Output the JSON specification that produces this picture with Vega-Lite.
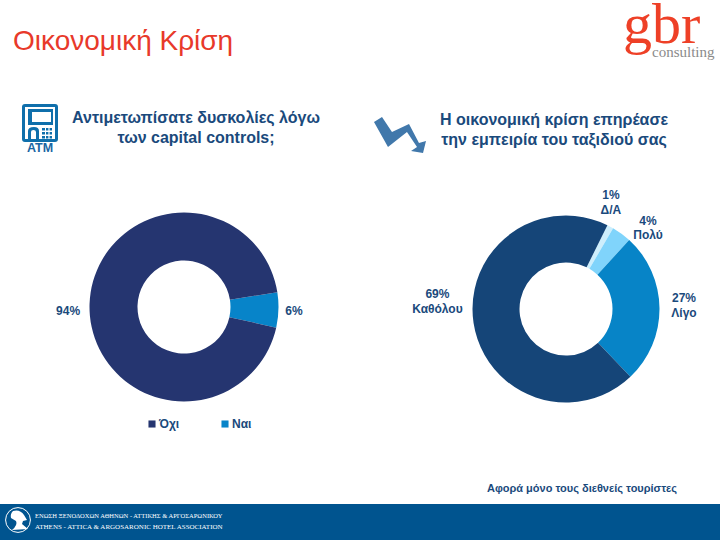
{
"$schema":"https://vega.github.io/schema/vega-lite/v6.json",
"padding":0,
"background":"white",
"spacing":0,
"config":{"view":{"stroke":null},"font":"Liberation Sans"},
"resolve":{"scale":{"color":"independent","theta":"independent"},"legend":{"color":"independent"}},
"vconcat":[
{"width":720,"height":154,"layer":[
 {"data":{"values":[{"label":"Οικονομική Κρίση"}]},"mark":{"type":"text","x":13,"y":50,"align":"left","baseline":"alphabetic","fontSize":28,"color":"#E8392A"},"encoding":{"text":{"field":"label"}}},
 {"data":{"values":[{"label":"gbr"}]},"mark":{"type":"text","clip":true,"x":623,"y":43,"align":"left","baseline":"alphabetic","fontSize":58,"font":"Liberation Serif","color":"#EE4027"},"encoding":{"text":{"field":"label"}}},
 {"data":{"values":[{"label":"consulting"}]},"mark":{"type":"text","x":652,"y":57,"align":"left","baseline":"alphabetic","fontSize":15,"font":"Liberation Serif","color":"#8A8A8A"},"encoding":{"text":{"field":"label"}}},
 {"data":{"values":[{"label":"Αντιμετωπίσατε δυσκολίες λόγω\nτων capital controls;"}]},"mark":{"type":"text","x":196,"y":123,"align":"center","baseline":"alphabetic","lineBreak":"\n","lineHeight":20,"fontSize":16,"fontWeight":"bold","color":"#1A4A7C"},"encoding":{"text":{"field":"label"}}},
 {"data":{"values":[{"label":"Η οικονομική κρίση επηρέασε\nτην εμπειρία του ταξιδιού σας"}]},"mark":{"type":"text","x":554,"y":125,"align":"center","baseline":"alphabetic","lineBreak":"\n","lineHeight":20,"fontSize":16,"fontWeight":"bold","color":"#1A4A7C"},"encoding":{"text":{"field":"label"}}},
 {"data":{"values":[{"label":"ATM"}]},"mark":{"type":"text","x":40,"y":152,"align":"center","baseline":"alphabetic","fontSize":12.5,"fontWeight":"bold","color":"#1B66A3"},"encoding":{"text":{"field":"label"}}},
 {"data":{"values":[{"icon":"atm"}]},"mark":{"type":"point","x":40,"y":123,"size":400,"filled":true,"opacity":1,"color":"#0F6FAB","shape":"M-1.5,-1.9 H1.5 Q1.8,-1.9 1.8,-1.6 V1.6 Q1.8,1.9 1.5,1.9 H-1.5 Q-1.8,1.9 -1.8,1.6 V-1.6 Q-1.8,-1.9 -1.5,-1.9 Z M-1.5,-1.6 V1.6 H1.5 V-1.6 Z M-1.2,-1.4 V0.2 H1.3 V-1.4 Z M-0.8,-1.1 H1.1 V-0.1 H-0.8 Z M-1.2,1.6 V0.8 Q-1.2,0.4 -0.6,0.4 Q-0.1,0.4 -0.1,0.8 V1.6 H-0.4 V0.9 Q-0.4,0.7 -0.66,0.7 Q-0.9,0.7 -0.9,0.9 V1.6 Z M0.2,0.5 H0.5 V0.76 H0.2 Z M0.6,0.5 H0.84 V0.76 H0.6 Z M0.96,0.5 H1.2 V0.76 H0.96 Z M0.2,0.9 H0.5 V1.16 H0.2 Z M0.6,0.9 H0.84 V1.16 H0.6 Z M0.96,0.9 H1.2 V1.16 H0.96 Z M0.2,1.3 H0.5 V1.56 H0.2 Z M0.6,1.3 H0.84 V1.56 H0.6 Z M0.96,1.3 H1.2 V1.56 H0.96 Z"},"encoding":{}},
 {"data":{"values":[{"icon":"arrow"}]},"mark":{"type":"point","x":400,"y":135,"size":900,"filled":true,"opacity":1,"color":"#4178AB","shape":"M-1.734,-0.866 L-1.2,-1.2 L-0.534,-0.2 L0.6,-0.734 L1.266,0.534 L1.734,0.4 L1.534,1.2 L0.734,1.066 L1.134,0.8 L0.466,-0.2 L-0.8,0.8 Z"},"encoding":{}}
]},
{"hconcat":[
 {"width":368,"height":254,
  "data":{"values":[
   {"category":"Ναι","value":6,"rank":1,"label":"6%"},
   {"category":"Όχι","value":94,"rank":2,"label":"94%"}
  ]},
  "encoding":{
   "theta":{"field":"value","type":"quantitative","stack":true,"scale":{"domain":[0,100],"range":[1.414,7.697]}},
   "order":{"field":"rank","type":"ordinal"}
  },
  "layer":[
   {"mark":{"type":"arc","outerRadius":94.5,"innerRadius":46.5},
    "encoding":{"color":{"field":"category","type":"nominal","scale":{"domain":["Όχι","Ναι"],"range":["#253570","#0784C9"]},
     "legend":{"title":null,"orient":"none","legendX":146,"legendY":238,"direction":"horizontal","columns":2,"columnPadding":39,"symbolType":"square","symbolSize":50,"labelOffset":1,"labelFontSize":12,"labelFontWeight":"bold","labelColor":"#1A4A7C","labelFont":"Liberation Sans"}}}},
   {"mark":{"type":"text","radius":110,"dy":1,"fontSize":12,"fontWeight":"bold","color":"#1A4A7C"},
    "encoding":{"detail":{"field":"category"},"text":{"condition":{"test":"datum.category==='Ναι'","field":"label"},"value":""}}},
   {"mark":{"type":"text","radius":116,"dy":8,"fontSize":12,"fontWeight":"bold","color":"#1A4A7C"},
    "encoding":{"detail":{"field":"category"},"text":{"condition":{"test":"datum.category==='Όχι'","field":"label"},"value":""}}}
  ]},
 {"width":304,"height":258,
  "data":{"values":[
   {"category":"Δ/Α","value":1.1,"rank":1,"label":"1%\nΔ/Α"},
   {"category":"Πολύ","value":3.4,"rank":2,"label":"4%\nΠολύ"},
   {"category":"Λίγο","value":26.1,"rank":3,"label":"27%\nΛίγο"},
   {"category":"Καθόλου","value":69.4,"rank":4,"label":"69%\nΚαθόλου"}
  ]},
  "encoding":{
   "theta":{"field":"value","type":"quantitative","stack":true,"scale":{"domain":[0,100],"range":[0.459,6.742]}},
   "order":{"field":"rank","type":"ordinal"}
  },
  "layer":[
   {"mark":{"type":"arc","outerRadius":93.5,"innerRadius":46.5},
    "encoding":{"color":{"field":"category","type":"nominal","scale":{"domain":["Καθόλου","Λίγο","Πολύ","Δ/Α"],"range":["#154578","#0784C7","#80D4FB","#CDEEFC"]},"legend":null}}},
   {"mark":{"type":"text","radius":118,"dx":-11,"dy":-10,"lineBreak":"\n","lineHeight":14.5,"fontSize":12,"fontWeight":"bold","color":"#1A4A7C"},
    "encoding":{"detail":{"field":"category"},"text":{"condition":{"test":"datum.category==='Δ/Α'","field":"label"},"value":""}}},
   {"mark":{"type":"text","radius":118,"dx":12,"dy":7,"lineBreak":"\n","lineHeight":14.5,"fontSize":12,"fontWeight":"bold","color":"#1A4A7C"},
    "encoding":{"detail":{"field":"category"},"text":{"condition":{"test":"datum.category==='Πολύ'","field":"label"},"value":""}}},
   {"mark":{"type":"text","radius":118,"dy":-9.5,"lineBreak":"\n","lineHeight":14.5,"fontSize":12,"fontWeight":"bold","color":"#1A4A7C"},
    "encoding":{"detail":{"field":"category"},"text":{"condition":{"test":"datum.category==='Λίγο'","field":"label"},"value":""}}},
   {"mark":{"type":"text","radius":129,"dx":-1,"dy":-34,"lineBreak":"\n","lineHeight":14.5,"fontSize":12,"fontWeight":"bold","color":"#1A4A7C"},
    "encoding":{"detail":{"field":"category"},"text":{"condition":{"test":"datum.category==='Καθόλου'","field":"label"},"value":""}}}
  ]}
],"spacing":46,"bounds":"flush","resolve":{"scale":{"color":"independent","theta":"independent"},"legend":{"color":"independent"}}},
{"width":720,"height":66,
 "data":{"values":[{"label":"Αφορά μόνο τους διεθνείς τουρίστες"}]},
 "mark":{"type":"text","x":677,"y":54,"align":"right","baseline":"alphabetic","fontSize":11,"fontWeight":"bold","color":"#1A4A7C"},
 "encoding":{"text":{"field":"label"}}},
{"width":720,"height":36,"view":{"fill":"#00548F","stroke":null},"layer":[
 {"data":{"values":[{"label":"ΕΝΩΣΗ ΞΕΝΟΔΟΧΩΝ ΑΘΗΝΩΝ - ΑΤΤΙΚΗΣ & ΑΡΓΟΣΑΡΩΝΙΚΟΥ"}]},"mark":{"type":"text","x":35,"y":14,"align":"left","baseline":"alphabetic","fontSize":6.5,"font":"Liberation Serif","color":"white"},"encoding":{"text":{"field":"label"}}},
 {"data":{"values":[{"label":"ATHENS - ATTICA & ARGOSARONIC HOTEL ASSOCIATION"}]},"mark":{"type":"text","x":35,"y":25,"align":"left","baseline":"alphabetic","fontSize":7,"font":"Liberation Serif","color":"white"},"encoding":{"text":{"field":"label"}}},
 {"data":{"values":[{"icon":"ring"}]},"mark":{"type":"point","x":18,"y":16,"size":616,"shape":"circle","filled":false,"opacity":1,"stroke":"white","strokeWidth":1},"encoding":{}},
 {"data":{"values":[{"icon":"head"}]},"mark":{"type":"point","x":19,"y":16,"size":400,"filled":true,"opacity":1,"color":"white","shape":"M-0.6,-0.9 Q0.1,-1.1 0.5,-0.5 L0.8,0 L0.4,0.1 L0.3,0.4 L0.9,0.9 L-0.7,1 Q-0.1,0.5 -0.3,0.1 L-0.8,-0.2 Q-0.9,-0.6 -0.6,-0.9 Z"},"encoding":{}}
]}
]}
